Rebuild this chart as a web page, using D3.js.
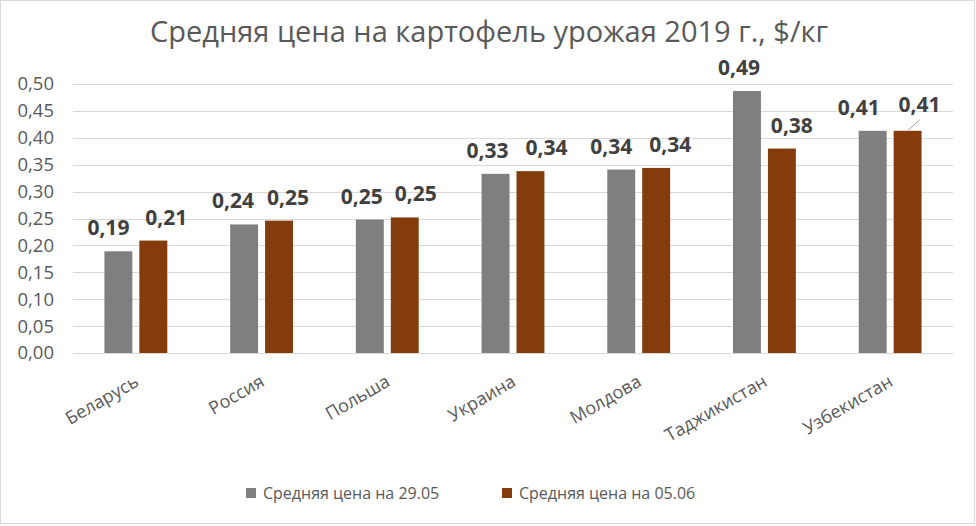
<!DOCTYPE html>
<html>
<head>
<meta charset="utf-8">
<script src="https://cdnjs.cloudflare.com/ajax/libs/d3/7.8.5/d3.min.js"></script>
<style>
  body { margin: 0; background: #fff; }
  svg text { font-family: "Open Sans", sans-serif; }
</style>
</head>
<body>
<div id="chart"></div>
<script>
// данные
const categories = ["Беларусь", "Россия", "Польша", "Украина", "Молдова", "Таджикистан", "Узбекистан"];
const seriesNames = ["Средняя цена на 29.05", "Средняя цена на 05.06"];
const price2905 = [0.189, 0.239, 0.248, 0.333, 0.341, 0.487, 0.413];
const price0506 = [0.209, 0.246, 0.252, 0.338, 0.344, 0.380, 0.413];
const yTicks = [0, 0.05, 0.10, 0.15, 0.20, 0.25, 0.30, 0.35, 0.40, 0.45, 0.50];
const colors = ["#7f7f7f", "#843c0c"];
// сдвиг подписей данных по горизонтали (как разнесены в оригинале)
const labelShift2905 = [-10, -11, -8, -8, -10, -8, -14];
const labelShift0506 = [13, 9, 11, 16, 14, 10, 12];

const width = 976, height = 526;
const margin = { top: 84, right: 23, bottom: 173, left: 73 };

const svg = d3.select("#chart").append("svg")
  .attr("width", width)
  .attr("height", height);

// рамка
svg.append("rect")
  .attr("x", 0.5).attr("y", 0.5)
  .attr("width", width - 2).attr("height", height - 3)
  .attr("fill", "#fff")
  .attr("stroke", "#d9d9d9");

// заголовок
svg.append("text")
  .attr("x", 489).attr("y", 42)
  .attr("text-anchor", "middle")
  .attr("font-size", "29px")
  .attr("fill", "#595959")
  .text("Средняя цена на картофель урожая 2019 г., $/кг");

const x0 = d3.scaleBand()
  .domain(categories)
  .range([margin.left, width - margin.right]);

const x1 = d3.scaleBand()
  .domain([0, 1])
  .range([x0.bandwidth() * 0.25, x0.bandwidth() * 0.75])
  .paddingInner(0.2);

const y = d3.scaleLinear()
  .domain([0, 0.5])
  .range([height - margin.bottom, margin.top]);

const fmt = v => d3.format(".2f")(v).replace(".", ",");

// сетка
svg.append("g")
  .selectAll("line")
  .data(yTicks)
  .join("line")
  .attr("x1", margin.left)
  .attr("x2", width - margin.right)
  .attr("y1", d => Math.round(y(d)) + 0.5)
  .attr("y2", d => Math.round(y(d)) + 0.5)
  .attr("stroke", "#d9d9d9")
  .attr("stroke-width", 1);

// ось Y
svg.append("g")
  .selectAll("text")
  .data(yTicks)
  .join("text")
  .attr("x", 54)
  .attr("y", d => y(d))
  .attr("dy", "0.35em")
  .attr("text-anchor", "end")
  .attr("font-size", "18.5px")
  .attr("fill", "#595959")
  .text(d => fmt(d));

// столбцы
const series = [price2905, price0506];
const shifts = [labelShift2905, labelShift0506];
const groups = svg.append("g")
  .selectAll("g")
  .data(categories)
  .join("g")
  .attr("transform", d => `translate(${x0(d)},0)`);

groups.selectAll("rect")
  .data((d, i) => series.map((s, k) => ({ k: k, v: s[i], cat: d })))
  .join("rect")
  .attr("x", d => x1(d.k))
  .attr("width", x1.bandwidth())
  .attr("y", d => y(d.v))
  .attr("height", d => y(0) - y(d.v))
  .attr("fill", d => colors[d.k]);

// подписи данных
groups.each(function(cat, i) {
  const g = d3.select(this);
  series.forEach((s, k) => {
    const bx = x1(k) + x1.bandwidth() / 2;
    const cx = bx + shifts[k][i];
    let ty = y(s[i]) - 16;
    // последняя подпись вынесена с линией
    if (cat === "Узбекистан" && k === 1) {
      g.append("line")
        .attr("x1", bx).attr("y1", y(s[i]))
        .attr("x2", bx + 12).attr("y2", y(s[i]) - 11)
        .attr("stroke", "#a6a6a6")
        .attr("stroke-width", 1);
      ty = y(s[i]) - 19;
    }
    g.append("text")
      .attr("x", cx)
      .attr("y", ty)
      .attr("text-anchor", "middle")
      .attr("font-size", "21px")
      .attr("font-weight", "bold")
      .attr("fill", "#404040")
      .text(fmt(s[i]));
  });
});

// подписи категорий
svg.append("g")
  .selectAll("text")
  .data(categories)
  .join("text")
  .attr("text-anchor", "end")
  .attr("font-size", "18px")
  .attr("fill", "#595959")
  .attr("transform", d => `translate(${x0(d) + x0.bandwidth() / 2 + 4},${385}) rotate(-30)`)
  .text(d => d);

// легенда
const legend = svg.append("g");
const legendX = [246, 502];
seriesNames.forEach((name, k) => {
  legend.append("rect")
    .attr("x", legendX[k]).attr("y", 488)
    .attr("width", 10).attr("height", 10)
    .attr("fill", colors[k]);
  legend.append("text")
    .attr("x", legendX[k] + 17).attr("y", 493)
    .attr("dy", "0.35em")
    .attr("font-size", "16px")
    .attr("fill", "#595959")
    .text(name);
});
</script>
</body>
</html>
